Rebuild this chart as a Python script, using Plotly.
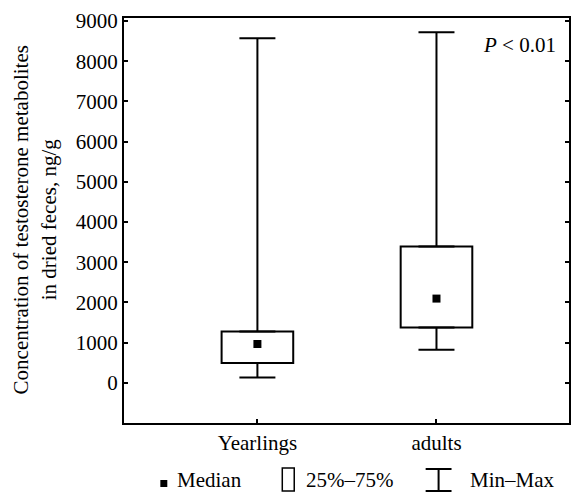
import plotly.graph_objects as go

groups = ["Yearlings", "adults"]
minimum = [130, 820]
q1 = [490, 1375]
median = [965, 2095]
q3 = [1275, 3390]
maximum = [8570, 8720]
y_ticks = [0, 1000, 2000, 3000, 4000, 5000, 6000, 7000, 8000, 9000]

FONT = "Liberation Serif"
FS = 21

fig = go.Figure()

# 25%-75% boxes
fig.add_trace(go.Bar(
    x=groups, base=q1, y=[b - a for a, b in zip(q1, q3)],
    width=0.4, marker=dict(color="white", line=dict(color="black", width=2)),
    showlegend=False, hoverinfo="skip"))

# upper whisker (q3 -> max)
fig.add_trace(go.Scatter(
    x=groups, y=q3, mode="markers", marker=dict(color="rgba(0,0,0,0)", size=1),
    error_y=dict(type="data", symmetric=False,
                 array=[m - q for q, m in zip(q3, maximum)],
                 arrayminus=[0, 0], color="black", thickness=2, width=18),
    showlegend=False, hoverinfo="skip"))

# lower whisker (q1 -> min)
fig.add_trace(go.Scatter(
    x=groups, y=q1, mode="markers", marker=dict(color="rgba(0,0,0,0)", size=1),
    error_y=dict(type="data", symmetric=False, array=[0, 0],
                 arrayminus=[q - m for q, m in zip(q1, minimum)],
                 color="black", thickness=2, width=18),
    showlegend=False, hoverinfo="skip"))

# medians
fig.add_trace(go.Scatter(
    x=groups, y=median, mode="markers",
    marker=dict(symbol="square", size=8, color="black"),
    showlegend=False, hoverinfo="skip"))

PX_W, PX_H, L, T, B = 571, 493, 124, 18, 70
plot_w = PX_W - L
plot_h = PX_H - T - B

def px(x):
    return (x - L) / plot_w

def py(y):
    return (PX_H - B - y) / plot_h

shapes = [
    # median legend square
    dict(type="rect", xref="paper", yref="paper",
         x0=px(160.5), x1=px(167.5), y0=py(487), y1=py(480),
         fillcolor="black", line=dict(width=0)),
    # box legend icon
    dict(type="rect", xref="paper", yref="paper",
         x0=px(283), x1=px(295), y0=py(491), y1=py(468),
         fillcolor="white", line=dict(color="black", width=1.5)),
    # min-max legend icon
    dict(type="line", xref="paper", yref="paper",
         x0=px(427), x1=px(453), y0=py(469), y1=py(469), line=dict(color="black", width=2)),
    dict(type="line", xref="paper", yref="paper",
         x0=px(427), x1=px(453), y0=py(491), y1=py(491), line=dict(color="black", width=2)),
    dict(type="line", xref="paper", yref="paper",
         x0=px(440), x1=px(440), y0=py(469), y1=py(491), line=dict(color="black", width=2)),
]

def ann(text, x, y, xanchor="center", **kw):
    return dict(text=text, xref="paper", yref="paper", x=px(x), y=py(y),
                xanchor=xanchor, yanchor="middle", showarrow=False, borderpad=0,
                font=dict(family=FONT, size=FS, color="black"), **kw)

annotations = [
    ann("<i>P</i> < 0.01", 521, 45),
    ann("Concentration of testosterone metabolites<br>in dried feces, ng/g", 34, 220,
        textangle=-90),
    ann("Median", 176, 480, xanchor="left"),
    ann("25%–75%", 306, 480, xanchor="left"),
    ann("Min–Max", 471, 480, xanchor="left"),
]

fig.update_layout(
    width=PX_W, height=PX_H,
    margin=dict(l=L, r=0, t=T, b=B, pad=0),
    plot_bgcolor="white", paper_bgcolor="white",
    font=dict(family=FONT, size=FS, color="black"),
    shapes=shapes, annotations=annotations,
    barmode="overlay",
)
fig.update_xaxes(
    range=[-0.745, 1.74], showline=True, linecolor="black", linewidth=2, mirror=True,
    ticks="inside", ticklen=4, tickwidth=1.5, tickcolor="black",
    showgrid=False, zeroline=False, tickfont=dict(family=FONT, size=FS, color="black"))
fig.update_yaxes(
    range=[-1000, 9075], tickvals=y_ticks, ticktext=[str(v) for v in y_ticks],
    showline=True, linecolor="black", linewidth=2, mirror="ticks",
    ticks="inside", ticklen=4, tickwidth=1.5, tickcolor="black",
    showgrid=False, zeroline=False, tickfont=dict(family=FONT, size=FS, color="black"))

fig.write_html("out.html", config={"displayModeBar": False},
               post_script="document.body.style.margin='0';document.body.style.overflow='hidden';")
